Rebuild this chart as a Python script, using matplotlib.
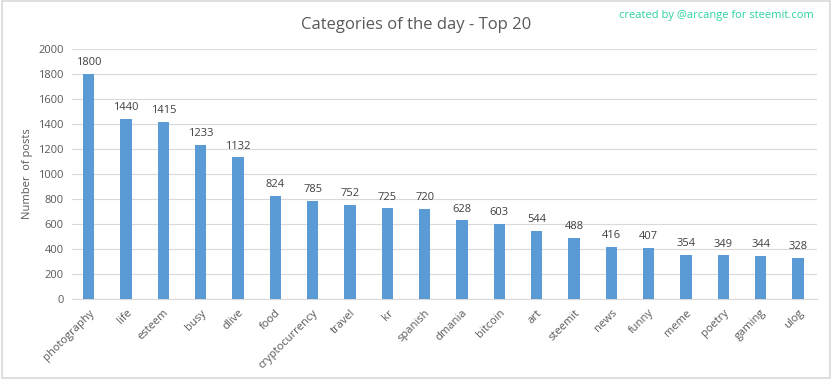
import matplotlib.pyplot as plt
from matplotlib.patches import Rectangle

# data
categories = ['photography', 'life', 'esteem', 'busy', 'dlive', 'food', 'cryptocurrency',
              'travel', 'kr', 'spanish', 'dmania', 'bitcoin', 'art', 'steemit', 'news',
              'funny', 'meme', 'poetry', 'gaming', 'ulog']
posts = [1800, 1440, 1415, 1233, 1132, 824, 785, 752, 725, 720,
         628, 603, 544, 488, 416, 407, 354, 349, 344, 328]

plt.rcParams['font.family'] = ['Open Sans', 'DejaVu Sans']
grey = '#595959'

fig = plt.figure(figsize=(8.32, 3.79), dpi=100)
ax = fig.add_axes([0.0865, 0.211, 0.895, 0.66])

x = range(len(categories))
bars = ax.bar(x, posts, width=0.3, color='#5B9BD5', zorder=3)
for xi, v in zip(x, posts):
    ax.text(xi, v + 45, str(v), ha='center', va='bottom', fontsize=8, color='#404040')

ax.set_ylim(0, 2000)
ax.set_xlim(-0.45, len(categories) - 0.5)
ax.set_yticks(range(0, 2001, 200))
ax.grid(axis='y', color='#D9D9D9', linewidth=0.8, zorder=0)
for s in ['top', 'right', 'left']:
    ax.spines[s].set_visible(False)
ax.spines['bottom'].set_color('#D9D9D9')
ax.tick_params(axis='both', length=0, labelsize=8, colors=grey, pad=6)
ax.set_xticks(list(x))
ax.set_xticklabels(categories, rotation=45, ha='right', rotation_mode='anchor')
ax.set_ylabel('Number  of posts', fontsize=8, color=grey, labelpad=4)

fig.text(0.5, 0.935, 'Categories of the day - Top 20', ha='center', va='center',
         fontsize=12, color=grey)
fig.text(0.978, 0.958, 'created by @arcange for steemit.com', ha='right', va='center',
         fontsize=8, color='#2BD2A3')

fig.patches.append(Rectangle((0.002, 0.003), 0.996, 0.994, transform=fig.transFigure,
                             fill=False, edgecolor='#D9D9D9', linewidth=1.2))

plt.savefig('out.png', dpi=100)
